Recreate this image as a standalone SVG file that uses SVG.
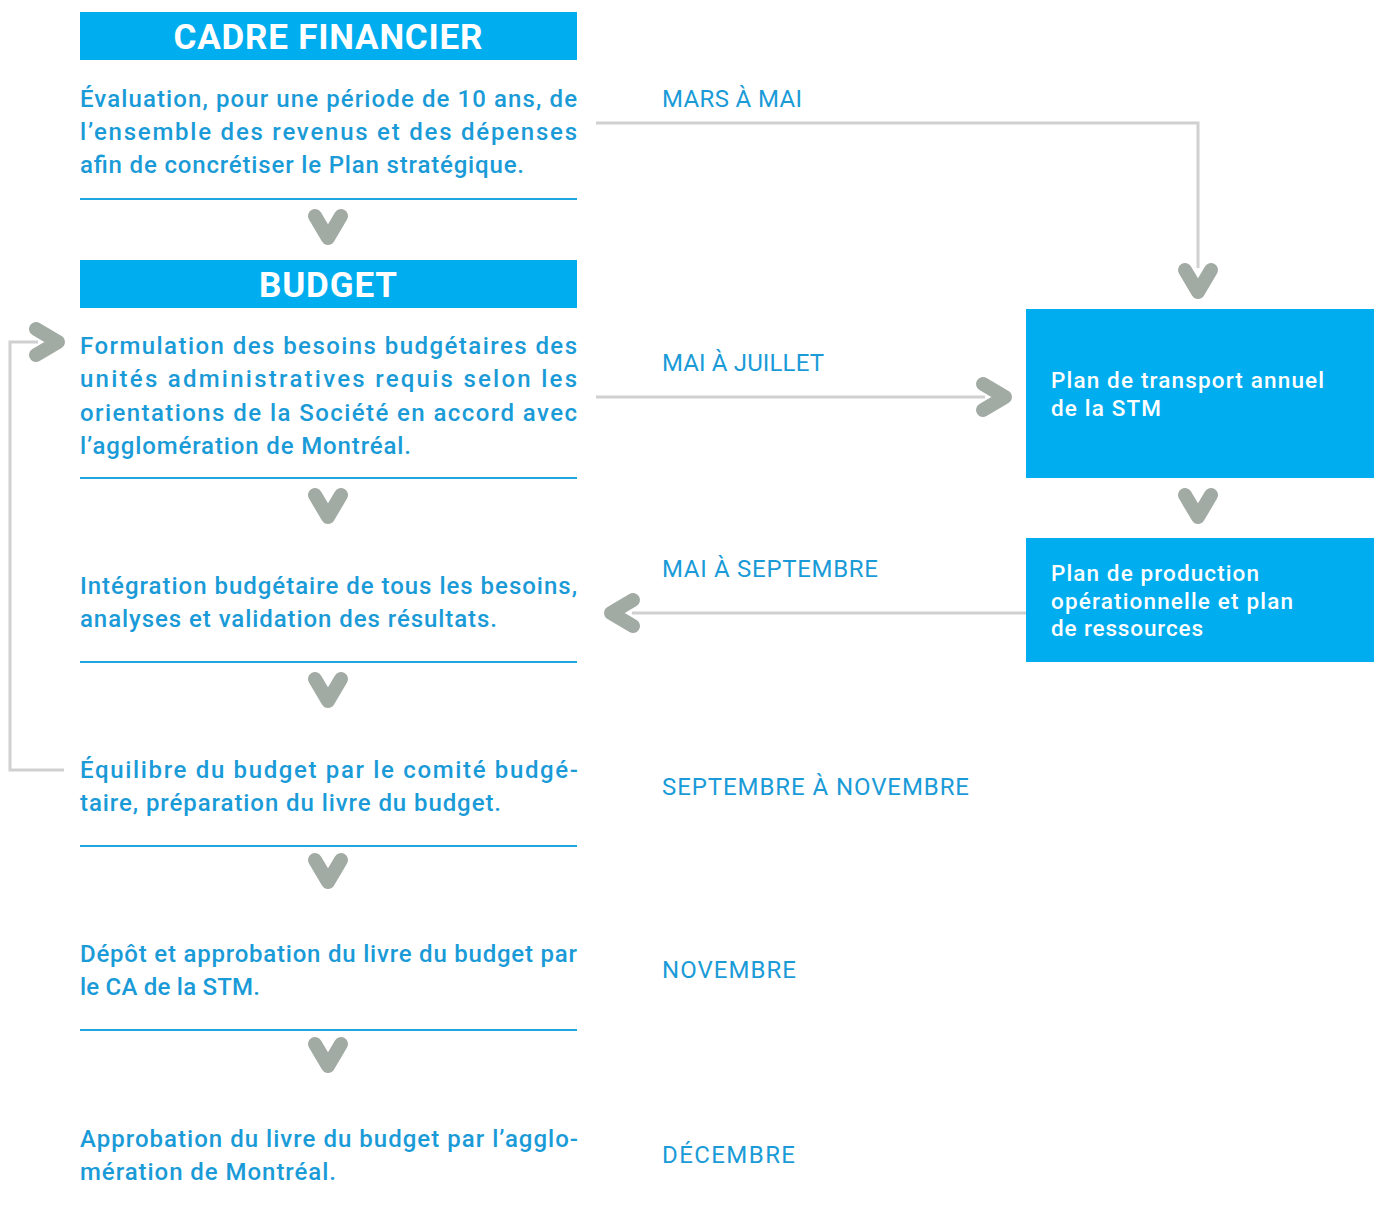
<svg xmlns="http://www.w3.org/2000/svg" width="1378" height="1210" viewBox="0 0 1378 1210">
<style>
.hdr{fill:#00AEEF}
.ht{font-family:Roboto,"Liberation Sans",sans-serif;font-weight:700;font-size:35px;fill:#fff;text-anchor:middle}
.p{font-family:Roboto,"Liberation Sans",sans-serif;font-weight:500;font-size:24px;fill:#1A9BD7}
.lbl{font-family:Roboto,"Liberation Sans",sans-serif;font-weight:400;font-size:24px;fill:#1A9BD7}
.bt{font-family:Roboto,"Liberation Sans",sans-serif;font-weight:500;font-size:22.5px;fill:#fff}
.sep{stroke:#1EA6E0;stroke-width:2}
.con{fill:none;stroke:#D0D0D0;stroke-width:3}
.chev{fill:none;stroke:#A2AAA4;stroke-width:14;stroke-linecap:round;stroke-linejoin:round}
</style>
<defs>
<path id="chev" class="chev" d="M-13,-11 L0,11 L13,-11"/>
</defs>

<g id="connectors">
<path class="con" d="M596,123 H1198 V268"/>
<path class="con" d="M596,397 H985"/>
<path class="con" d="M1026,613 H632"/>
<path class="con" d="M64,770 H10 V342 H38"/>
<use href="#chev" transform="translate(1198,281)"/>
<use href="#chev" transform="translate(994,397) rotate(-90)"/>
<use href="#chev" transform="translate(622,613) rotate(90)"/>
<use href="#chev" transform="translate(47,342) rotate(-90)"/>
<use href="#chev" transform="translate(328,227)"/>
<use href="#chev" transform="translate(328,506)"/>
<use href="#chev" transform="translate(328,690)"/>
<use href="#chev" transform="translate(328,871)"/>
<use href="#chev" transform="translate(328,1055)"/>
<use href="#chev" transform="translate(1198,506)"/>
</g>

<g id="cadre-financier">
<rect class="hdr" x="80" y="12" width="497" height="48"/>
<text class="ht" x="328" y="49" textLength="309" lengthAdjust="spacing">CADRE FINANCIER</text>
<text class="p" x="80" y="107" textLength="497" lengthAdjust="spacing">Évaluation, pour une période de 10 ans, de</text>
<text class="p" x="80" y="140" textLength="497" lengthAdjust="spacing">l’ensemble des revenus et des dépenses</text>
<text class="p" x="80" y="173" textLength="444" lengthAdjust="spacing">afin de concrétiser le Plan stratégique.</text>
<line class="sep" x1="80" y1="199" x2="577" y2="199"/>
</g>

<g id="budget">
<rect class="hdr" x="80" y="260" width="497" height="48"/>
<text class="ht" x="328" y="297" textLength="138" lengthAdjust="spacing">BUDGET</text>
<text class="p" x="80" y="354" textLength="497" lengthAdjust="spacing">Formulation des besoins budgétaires des</text>
<text class="p" x="80" y="387" textLength="497" lengthAdjust="spacing">unités administratives requis selon les</text>
<text class="p" x="80" y="421" textLength="497" lengthAdjust="spacing">orientations de la Société en accord avec</text>
<text class="p" x="80" y="454" textLength="331" lengthAdjust="spacing">l’agglomération de Montréal.</text>
<line class="sep" x1="80" y1="478" x2="577" y2="478"/>
</g>

<g id="integration">
<text class="p" x="80" y="594" textLength="497" lengthAdjust="spacing">Intégration budgétaire de tous les besoins,</text>
<text class="p" x="80" y="627" textLength="417" lengthAdjust="spacing">analyses et validation des résultats.</text>
<line class="sep" x1="80" y1="662" x2="577" y2="662"/>
</g>

<g id="equilibre">
<text class="p" x="80" y="778" textLength="498" lengthAdjust="spacing">Équilibre du budget par le comité budgé-</text>
<text class="p" x="80" y="811" textLength="421" lengthAdjust="spacing">taire, préparation du livre du budget.</text>
<line class="sep" x1="80" y1="846" x2="577" y2="846"/>
</g>

<g id="depot">
<text class="p" x="80" y="962" textLength="497" lengthAdjust="spacing">Dépôt et approbation du livre du budget par</text>
<text class="p" x="80" y="995" textLength="180" lengthAdjust="spacing">le CA de la STM.</text>
<line class="sep" x1="80" y1="1030" x2="577" y2="1030"/>
</g>

<g id="approbation">
<text class="p" x="80" y="1147" textLength="498" lengthAdjust="spacing">Approbation du livre du budget par l’agglo-</text>
<text class="p" x="80" y="1180" textLength="256" lengthAdjust="spacing">mération de Montréal.</text>
</g>

<g id="labels">
<text class="lbl" x="662" y="107" textLength="140" lengthAdjust="spacing">MARS À MAI</text>
<text class="lbl" x="662" y="371" textLength="162" lengthAdjust="spacing">MAI À JUILLET</text>
<text class="lbl" x="662" y="577" textLength="216" lengthAdjust="spacing">MAI À SEPTEMBRE</text>
<text class="lbl" x="662" y="795" textLength="307" lengthAdjust="spacing">SEPTEMBRE À NOVEMBRE</text>
<text class="lbl" x="662" y="978" textLength="134" lengthAdjust="spacing">NOVEMBRE</text>
<text class="lbl" x="662" y="1163" textLength="133" lengthAdjust="spacing">DÉCEMBRE</text>
</g>

<g id="plan-transport">
<rect class="hdr" x="1026" y="309" width="348" height="169"/>
<text class="bt" x="1051" y="388" textLength="273" lengthAdjust="spacing">Plan de transport annuel</text>
<text class="bt" x="1051" y="416" textLength="110" lengthAdjust="spacing">de la STM</text>
</g>

<g id="plan-production">
<rect class="hdr" x="1026" y="538" width="348" height="124"/>
<text class="bt" x="1051" y="581" textLength="208" lengthAdjust="spacing">Plan de production</text>
<text class="bt" x="1051" y="609" textLength="242" lengthAdjust="spacing">opérationnelle et plan</text>
<text class="bt" x="1051" y="636" textLength="152" lengthAdjust="spacing">de ressources</text>
</g>
</svg>
